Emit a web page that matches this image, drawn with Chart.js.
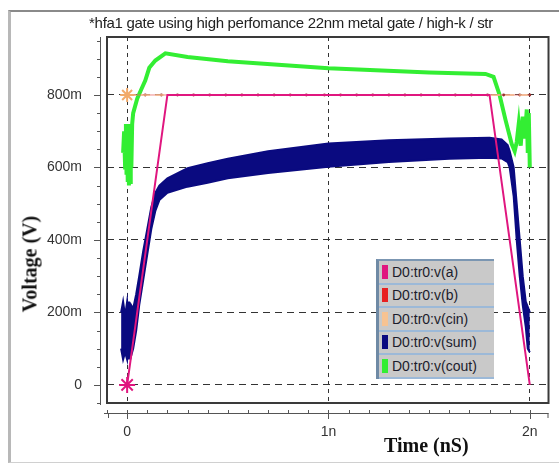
<!DOCTYPE html>
<html lang="en">
<head>
    <meta charset="UTF-8">
    <title>hfa1 gate transient</title>
    <script src="https://cdn.jsdelivr.net/npm/chart.js@4.4.0/dist/chart.umd.min.js"></script>
    <style>
        body { margin: 0; background: #fff; }
        #wrap { position: relative; width: 559px; height: 465px; overflow: hidden; font-family: "Liberation Sans", Arial, sans-serif; }
        #chart { position: absolute; left: 0; top: 0; }
        /* outer window frame */
        #frame { position: absolute; left: 8px; top: 10px; width: 560px; height: 450px;
                 border-top: 2px solid #8a8a8a; border-left: 3px solid #b8b8b8; border-bottom: 1px solid #d0d0d0; }
        #title { position: absolute; left: 0; width: 582px; top: 14px; text-align: center;
                 font-size: 15px; color: #222; letter-spacing: -0.3px; }
        .axisTitle { position: absolute; font-family: "Liberation Serif", "Times New Roman", serif;
                     font-weight: bold; font-size: 20px; color: #111; white-space: nowrap; }
        #xTitle { left: 384px; top: 434px; }
        #yTitle { left: 30px; top: 264px; transform: translate(-50%, -50%) rotate(-90deg); }
        #legend { position: absolute; left: 376px; top: 259px; width: 115px;
                  border-top: 2px solid #7b96b2; border-left: 3px solid #6f8aa5; }
        .row { height: 21.5px; background: #c9c9c9; border-bottom: 2px solid #9cb9d8;
               display: flex; align-items: center; font-size: 14px; color: #1c1c2c; letter-spacing: 0px; white-space: nowrap; }
        .sw { width: 6px; height: 14px; margin: 0 4px 0 3px; flex: none; }
    </style>
</head>
<body>
<div id="wrap">
    <div id="frame"></div>
    <canvas id="chart" width="559" height="465"></canvas>
    <div id="title">*hfa1 gate using high perfomance 22nm metal gate / high-k / str</div>
    <div class="axisTitle" id="xTitle">Time (nS)</div>
    <div class="axisTitle" id="yTitle">Voltage (V)</div>
    <div id="legend"></div>
</div>

<script>
    // axis ticks
    const xTicks = [0, 1, 2];
    const yTicks = [0, 0.2, 0.4, 0.6, 0.8];

    // legend names / colours
    const seriesNames = ['D0:tr0:v(a)', 'D0:tr0:v(b)', 'D0:tr0:v(cin)', 'D0:tr0:v(sum)', 'D0:tr0:v(cout)'];
    const seriesColors = ['#e0167f', '#e82020', '#f7c392', '#0a0a80', '#33ee33'];

    // v(a) : input ramp (time in nS, volts)
    const tA = [0, 0.2, 1.8, 2.0];
    const vA = [0, 0.8, 0.8, 0];

    // v(b) : held at 800m
    const tB = [0, 0.09, 0.17, 0.25, 0.33, 0.41, 0.49, 0.57, 0.65, 0.73, 0.81, 0.89, 0.98,
                1.06, 1.14, 1.22, 1.30, 1.38, 1.46, 1.55, 1.63, 1.71, 1.79, 1.87, 1.95, 2.0];
    const vB = [0.8, 0.8, 0.8, 0.8, 0.8, 0.8, 0.8, 0.8, 0.8, 0.8, 0.8, 0.8, 0.8,
                0.8, 0.8, 0.8, 0.8, 0.8, 0.8, 0.8, 0.8, 0.8, 0.8, 0.8, 0.8, 0.8];

    // v(cin)
    const tCin = [0, 2.0];
    const vCin = [0.8, 0.8];

    // v(sum) : noisy band, upper and lower edge
    const tSum = [-0.03, -0.02, -0.01, 0, 0.005, 0.01, 0.015, 0.02, 0.03, 0.045, 0.06, 0.08, 0.10, 0.12, 0.14, 0.16,
                  0.2, 0.3, 0.4, 0.5, 0.7, 1.0, 1.3, 1.6, 1.8, 1.86, 1.89, 1.90, 1.92, 1.935,
                  1.95, 1.965, 1.98, 1.99, 2.0];
    const vSumHi = [0.20, 0.23, 0.19, 0.23, 0.19, 0.23, 0.18, 0.22, 0.21, 0.25, 0.30, 0.37, 0.43, 0.49, 0.53, 0.55,
                    0.57, 0.598, 0.612, 0.624, 0.645, 0.666, 0.675, 0.68, 0.682, 0.677, 0.662, 0.645, 0.60, 0.50,
                    0.40, 0.30, 0.23, 0.215, 0.20];
    const vSumLo = [0.10, 0.07, 0.09, 0.07, 0.11, 0.07, 0.10, 0.08, 0.10, 0.15, 0.22, 0.29, 0.36, 0.43, 0.48, 0.51,
                    0.53, 0.547, 0.558, 0.57, 0.585, 0.602, 0.615, 0.624, 0.627, 0.625, 0.615, 0.60, 0.52, 0.40,
                    0.30, 0.22, 0.16, 0.10, 0.09];

    // v(cout)
    const tCout = [-0.02, -0.015, -0.01, -0.006, -0.003, 0, 0.003, 0.006, 0.009, 0.012, 0.015, 0.018, 0.021, 0.025,
                   0.03, 0.05, 0.07, 0.09, 0.11, 0.14, 0.19, 0.3, 0.5, 1.0, 1.5, 1.78, 1.82, 1.85,
                   1.88, 1.91, 1.925, 1.935, 1.945, 1.955, 1.965, 1.975, 1.985, 1.99, 1.995, 2.0];
    const vCout = [0.64, 0.70, 0.60, 0.72, 0.58, 0.70, 0.56, 0.72, 0.55, 0.70, 0.56, 0.68, 0.60, 0.72,
                   0.75, 0.79, 0.815, 0.84, 0.875, 0.895, 0.915, 0.905, 0.893, 0.874, 0.862, 0.858, 0.85, 0.80,
                   0.73, 0.665, 0.645, 0.67, 0.72, 0.66, 0.74, 0.68, 0.76, 0.64, 0.75, 0.60];

    function pts(ts, vs) {
        return ts.map((t, i) => ({ x: t, y: vs[i] }));
    }

    // legend built from the names
    const legend = document.getElementById('legend');
    seriesNames.forEach((name, i) => {
        const row = document.createElement('div');
        row.className = 'row';
        row.innerHTML = '<div class="sw" style="background:' + seriesColors[i] + '"></div><span>' + name + '</span>';
        legend.appendChild(row);
    });

    // frame + detached axes like the simulator window
    const framePlugin = {
        id: 'frame',
        afterDraw(chart) {
            const ctx = chart.ctx;
            const { left, right, top, bottom } = chart.chartArea;
            const xs = chart.scales.x, ys = chart.scales.y;
            ctx.save();
            ctx.strokeStyle = '#3a3a3a';
            ctx.lineWidth = 2;
            ctx.strokeRect(left, top, right - left, bottom - top);

            ctx.strokeStyle = '#555';
            ctx.lineWidth = 1;
            // y axis line
            const ax = left - 7;
            ctx.beginPath();
            ctx.moveTo(ax + 0.5, top);
            ctx.lineTo(ax + 0.5, bottom + 2);
            for (let v = -0.05; v < 0.96; v += 0.05) {
                const py = Math.round(ys.getPixelForValue(v)) + 0.5;
                ctx.moveTo(ax - 3, py);
                ctx.lineTo(ax, py);
            }
            yTicks.forEach(v => {
                const py = Math.round(ys.getPixelForValue(v)) + 0.5;
                ctx.moveTo(ax - 6, py);
                ctx.lineTo(ax, py);
            });
            // x axis line
            const ay = bottom + 10;
            ctx.moveTo(left - 3, ay + 0.5);
            ctx.lineTo(right, ay + 0.5);
            for (let t = -0.1; t < 2.1; t += 0.1) {
                const px = Math.round(xs.getPixelForValue(t)) + 0.5;
                ctx.moveTo(px, ay - 3);
                ctx.lineTo(px, ay);
            }
            xTicks.forEach(t => {
                const px = Math.round(xs.getPixelForValue(t)) + 0.5;
                ctx.moveTo(px, ay);
                ctx.lineTo(px, ay + 6);
            });
            ctx.moveTo(left + 1.5, ay);
            ctx.lineTo(left + 1.5, ay + 5);
            ctx.moveTo(right - 0.5, ay);
            ctx.lineTo(right - 0.5, ay + 5);
            ctx.stroke();
            ctx.restore();
        }
    };

    const tickFont = { family: '"Liberation Sans", Arial, sans-serif', size: 14 };

    new Chart(document.getElementById('chart'), {
        type: 'line',
        data: {
            datasets: [
                {
                    label: seriesNames[0], data: pts(tA, vA),
                    borderColor: seriesColors[0], borderWidth: 2,
                    pointRadius: ctx => ctx.dataIndex === 0 ? 8 : 0,
                    pointStyle: 'star', pointBorderColor: seriesColors[0], pointBorderWidth: 2
                },
                {
                    label: seriesNames[2], data: pts(tCin, vCin),
                    borderColor: '#f5b98a', borderWidth: 1.5, borderDash: [9, 5],
                    pointRadius: ctx => ctx.dataIndex === 0 ? 7 : 0,
                    pointStyle: 'star', pointBorderColor: '#f2aa6a', pointBorderWidth: 2
                },
                {
                    label: seriesNames[1], data: pts(tB, vB),
                    borderColor: 'rgba(235, 110, 110, 0.8)', borderWidth: 1,
                    pointRadius: 1.4, pointBackgroundColor: '#9a3030', pointBorderWidth: 0
                },
                {
                    label: seriesNames[4], data: pts(tCout, vCout),
                    borderColor: seriesColors[4], borderWidth: 4, pointRadius: 0
                },
                {
                    label: seriesNames[3], data: pts(tSum, vSumHi),
                    borderColor: seriesColors[3], borderWidth: 2, pointRadius: 0, fill: false
                },
                {
                    label: seriesNames[3] + ' lo', data: pts(tSum, vSumLo),
                    borderColor: seriesColors[3], borderWidth: 2, pointRadius: 0,
                    fill: '-1', backgroundColor: seriesColors[3]
                }
            ]
        },
        options: {
            responsive: false,
            animation: false,
            devicePixelRatio: 1,
            parsing: false,
            elements: { line: { tension: 0 } },
            layout: { padding: { top: 37, right: 6, left: 0, bottom: 0 } },
            plugins: { legend: { display: false }, tooltip: { enabled: false } },
            scales: {
                x: {
                    type: 'linear', min: -0.1, max: 2.093,
                    afterBuildTicks: s => { s.ticks = xTicks.map(v => ({ value: v })); },
                    afterFit: s => { s.height = 62; },
                    grid: { color: '#333', lineWidth: 1, drawTicks: false },
                    border: { display: false, dash: [4, 4] },
                    ticks: {
                        padding: 21, color: '#333', font: tickFont, maxRotation: 0, autoSkip: false,
                        callback: v => v === 0 ? '0' : v + 'n'
                    }
                },
                y: {
                    type: 'linear', min: -0.05, max: 0.96,
                    afterBuildTicks: s => { s.ticks = yTicks.map(v => ({ value: v })); },
                    afterFit: s => { s.width = 107; },
                    grid: { color: '#333', lineWidth: 1, drawTicks: false },
                    border: { display: false, dash: [7, 5] },
                    ticks: {
                        padding: 25, color: '#333', font: tickFont, autoSkip: false,
                        callback: v => v === 0 ? '0' : Math.round(v * 1000) + 'm'
                    }
                }
            }
        },
        plugins: [framePlugin]
    });
</script>
</body>
</html>
